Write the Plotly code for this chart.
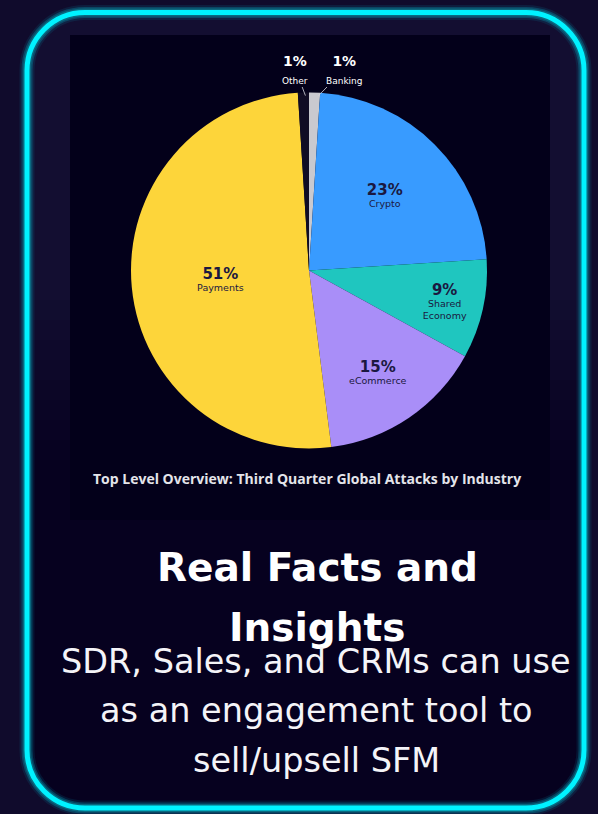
import math
import plotly.graph_objects as go

# ---------------- data ----------------
industries = ["Banking", "Crypto", "Shared Economy", "eCommerce", "Payments", "Other"]
display_names = ["Banking", "Crypto", "Shared<br>Economy", "eCommerce", "Payments", "Other"]
shares = [1, 23, 9, 15, 51, 1]
slice_colors = ["#c9c9cf", "#389bff", "#1fc6bf", "#a98ef8", "#fdd53a", "#100c24"]
chart_caption = "Top Level Overview: Third Quarter Global Attacks by Industry"
card_title = ["Real Facts and", "Insights"]
card_body = ["SDR, Sales, and CRMs can use", "as an engagement tool to", "sell/upsell SFM"]

W, H = 598, 814
fig = go.Figure()

# pie geometry (pixels)
CX, CY, R = 309, 270.5, 178
small = [s <= 1 for s in shares]
texttemplates = [
    "" if sm else "<span style='font-size:15px'><b>%{value}%</b></span><br>%{text}"
    for sm in small
]
textpositions = ["none" if sm else "inside" for sm in small]

fig.add_trace(go.Pie(
    labels=industries,
    values=shares,
    text=display_names,
    texttemplate=texttemplates,
    textposition=textpositions,
    insidetextorientation="horizontal",
    sort=False,
    direction="clockwise",
    rotation=0,
    marker=dict(colors=slice_colors, line=dict(width=0)),
    insidetextfont=dict(family="DejaVu Sans", size=9.5, color="#1b1840"),
    showlegend=False,
    hoverinfo="label+percent",
    domain=dict(x=[(CX - R) / W, (CX + R) / W], y=[1 - (CY + R) / H, 1 - (CY - R) / H]),
))

# --------------- card background shapes -----------------
def rrect(x0, y0, x1, y1, r):
    k = 0.5523 * r
    return (f"M {x0+r},{y0} L {x1-r},{y0} C {x1-r+k},{y0} {x1},{y0+r-k} {x1},{y0+r} "
            f"L {x1},{y1-r} C {x1},{y1-r+k} {x1-r+k},{y1} {x1-r},{y1} "
            f"L {x0+r},{y1} C {x0+r-k},{y1} {x0},{y1-r+k} {x0},{y1-r} "
            f"L {x0},{y0+r} C {x0},{y0+r-k} {x0+r-k},{y0} {x0+r},{y0} Z")


def rtop(x0, y0, x1, y1, r):
    k = 0.5523 * r
    return (f"M {x0},{y1} L {x0},{y0+r} C {x0},{y0+r-k} {x0+r-k},{y0} {x0+r},{y0} "
            f"L {x1-r},{y0} C {x1-r+k},{y0} {x1},{y0+r-k} {x1},{y0+r} L {x1},{y1} Z")

shapes = []
BX0, BY0, BX1, BY1, BR = 27, 12.5, 584, 808, 58
# card interior
shapes.append(dict(type="path", path=rrect(BX0, BY0, BX1, BY1, BR), xref="x", yref="y",
                   fillcolor="#06011f", line=dict(width=0), layer="below"))
# lighter upper strip fading downward
shapes.append(dict(type="path", path=rtop(BX0, BY0, BX1, 300, BR), xref="x", yref="y",
                   fillcolor="#130e31", line=dict(width=0), layer="below"))
for i in range(8):
    ya = 300 + i * 20
    op = 0.9 - i * 0.11
    shapes.append(dict(type="rect", x0=BX0, x1=BX1, y0=ya, y1=ya + 20, xref="x", yref="y",
                       fillcolor=f"rgba(19,14,49,{op:.2f})", line=dict(width=0), layer="below"))
# dark image panel
shapes.append(dict(type="rect", x0=70, x1=550, y0=35, y1=520, xref="x", yref="y",
                   fillcolor="#03001a", line=dict(width=0), layer="below"))
# glowing border
for w, c in [(15, "rgba(0,170,200,0.12)"), (11, "rgba(0,190,215,0.25)"),
             (8, "rgba(10,120,140,0.7)"), (5, "#00f2ff")]:
    shapes.append(dict(type="path", path=rrect(BX0, BY0, BX1, BY1, BR), xref="x", yref="y",
                       fillcolor="rgba(0,0,0,0)", line=dict(color=c, width=w), layer="above"))

# --------------- annotations -----------------
annotations = []
cum = 0
for name, s in zip(industries, shares):
    mid = (cum + s / 2) / sum(shares) * 2 * math.pi
    cum += s
    if s > 1:
        continue
    px = CX + R * math.sin(mid)
    py = CY - R * math.cos(mid)
    tx = px - 8 if math.sin(mid) < 0 else px + 30
    annotations.append(dict(
        x=px + (2 if math.sin(mid) < 0 else 4), y=py + 3, xref="x", yref="y",
        ax=tx, ay=69, axref="x", ayref="y",
        text=f"<b>{s}%</b><br><span style='font-size:9px'>{name}</span>",
        showarrow=True, arrowhead=0, arrowwidth=0.8, arrowcolor="#d8d8e0", standoff=0,
        font=dict(family="DejaVu Sans", size=14, color="#ffffff"),
        align="center",
    ))

annotations.append(dict(x=307, y=478, xref="x", yref="y", text=f"<b>{chart_caption}</b>",
                        showarrow=False, font=dict(family="Open Sans", size=14, color="#e4e4ea")))
for i, line in enumerate(card_title):
    annotations.append(dict(x=317, y=567 + i * 60, xref="x", yref="y", text=line, showarrow=False,
                            font=dict(family="DejaVu Sans", size=39, color="#ffffff", weight=600)))
for i, line in enumerate(card_body):
    annotations.append(dict(x=316, y=661 + i * 49.5, xref="x", yref="y", text=line, showarrow=False,
                            font=dict(family="DejaVu Sans", size=33.5, color="#f4f4f8", weight=400)))

fig.update_layout(
    width=W, height=H,
    margin=dict(l=0, r=0, t=0, b=0),
    paper_bgcolor="#100b2c",
    plot_bgcolor="rgba(0,0,0,0)",
    xaxis=dict(range=[0, W], visible=False, fixedrange=True, domain=[0, 1]),
    yaxis=dict(range=[H, 0], visible=False, fixedrange=True, domain=[0, 1]),
    shapes=shapes,
    annotations=annotations,
)

fig.write_html(
    "out.html",
    config={"displayModeBar": False},
    post_script="document.body.style.margin='0';document.body.style.background='#100b2c';",
)
